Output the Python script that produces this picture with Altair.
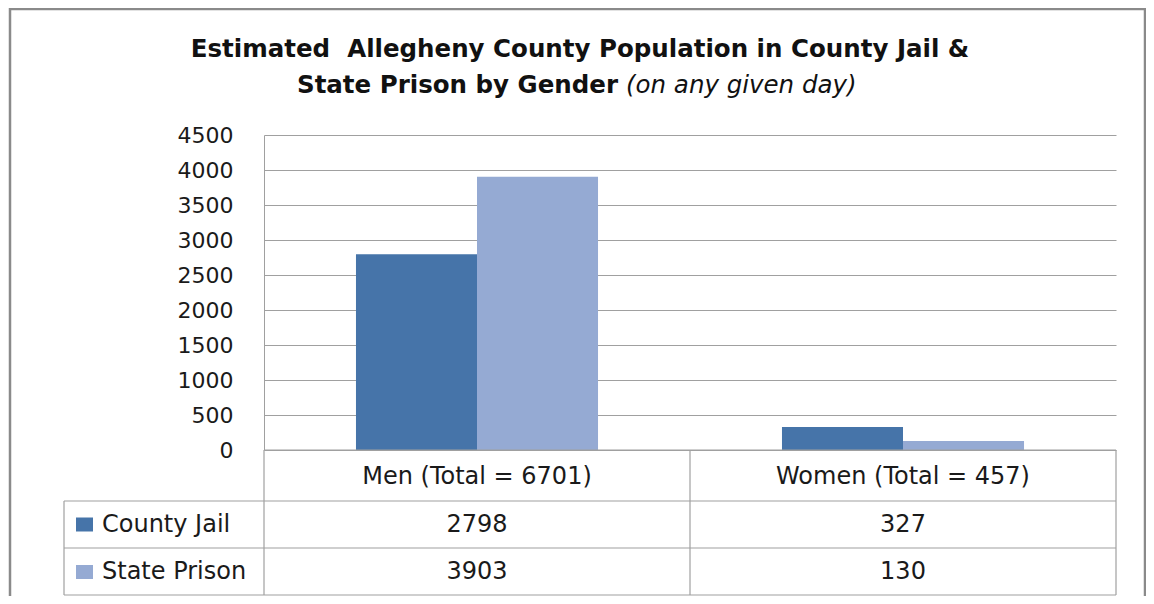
import altair as alt
import pandas as pd

# ---- data ----
genders = ["Men (Total = 6701)", "Women (Total = 457)"]
series = ["County Jail", "State Prison"]
county_jail = [2798, 327]
state_prison = [3903, 130]
colors = ["#4674A9", "#95AAD3"]
y_ticks = [0, 500, 1000, 1500, 2000, 2500, 3000, 3500, 4000, 4500]
title_line1 = "Estimated\u00a0 Allegheny County Population in County Jail &"
title_line2_bold = "State Prison by Gender"
title_line2_italic = "(on any given day)"

rows = []
for s, vals in zip(series, [county_jail, state_prison]):
    for g, v in zip(genders, vals):
        rows.append({"gender": g, "series": s, "value": v})
df = pd.DataFrame(rows)

FONT = "DejaVu Sans"
GRID = "#a0a0a0"
TEXT = "#1a1a1a"

# plot area: 852 x 315, origin at page (264, 135)
W, H = 852, 315

x_scale = alt.Scale(domain=genders, paddingInner=0, paddingOuter=0)

bars = alt.Chart(df).mark_bar().encode(
    x=alt.X("gender:N", scale=x_scale, sort=genders,
            axis=alt.Axis(title=None, ticks=False, domain=False, labelAngle=0,
                          labelFontSize=24, labelFont=FONT, labelColor=TEXT,
                          labelLimit=0, labelPadding=26, labelBaseline="middle")),
    xOffset=alt.XOffset("series:N", sort=series,
                        scale=alt.Scale(domain=series, paddingInner=0, paddingOuter=0.76)),
    y=alt.Y("value:Q", scale=alt.Scale(domain=[0, 4500], nice=False),
            axis=alt.Axis(title=None, values=y_ticks, format="d", ticks=False, domain=True,
                          domainColor=GRID, grid=True, gridColor=GRID,
                          labelFontSize=22, labelFont=FONT, labelColor=TEXT,
                          labelPadding=31)),
    color=alt.Color("series:N", scale=alt.Scale(domain=series, range=colors), legend=None),
)

one = pd.DataFrame({"a": [0]})

layers = [bars]

# table values
row_centers = [389.5, 437]
for s, yc in zip(series, row_centers):
    layers.append(
        alt.Chart(df).transform_filter(alt.datum.series == s).mark_text(
            font=FONT, fontSize=24, color=TEXT, baseline="middle", align="center"
        ).encode(x=alt.X("gender:N", scale=x_scale, sort=genders),
                 y=alt.value(yc), text="value:Q")
    )

# legend column
for s, c, yc in zip(series, colors, row_centers):
    layers.append(alt.Chart(one).mark_rect(color=c).encode(
        x=alt.value(-188), x2=alt.value(-171), y=alt.value(yc - 7), y2=alt.value(yc + 7)))
    layers.append(alt.Chart(one).mark_text(
        font=FONT, fontSize=24, color=TEXT, baseline="middle", align="left"
    ).encode(x=alt.value(-162), y=alt.value(yc), text=alt.value(s)))

# table lines
hlines = [(0, W, 315), (-200, W, 366), (-200, W, 413), (-200, W, 460)]
for x1, x2, yy in hlines:
    layers.append(alt.Chart(one).mark_rule(color=GRID, strokeWidth=1.2).encode(
        x=alt.value(x1), x2=alt.value(x2), y=alt.value(yy)))
vlines = [(-200, 366, 460), (0, 315, 460), (426, 315, 460), (W, 315, 460)]
for xx, y1, y2 in vlines:
    layers.append(alt.Chart(one).mark_rule(color=GRID, strokeWidth=1.2).encode(
        x=alt.value(xx), y=alt.value(y1), y2=alt.value(y2)))

# outer frame
layers.append(alt.Chart(one).mark_rect(filled=False, stroke="#8a8a8a", strokeWidth=2.5).encode(
    x=alt.value(-254), x2=alt.value(881), y=alt.value(-126), y2=alt.value(480)))

# title
TS = 24.5
layers.append(alt.Chart(one).mark_text(
    font=FONT, fontSize=TS, fontWeight="bold", color="#111111", align="center", baseline="alphabetic"
).encode(x=alt.value(316), y=alt.value(-78), text=alt.value(title_line1)))
layers.append(alt.Chart(one).mark_text(
    font=FONT, fontSize=TS, fontWeight="bold", color="#111111", align="right", baseline="alphabetic"
).encode(x=alt.value(354), y=alt.value(-42), text=alt.value(title_line2_bold)))
layers.append(alt.Chart(one).mark_text(
    font=FONT, fontSize=TS, fontStyle="italic", color="#111111", align="left", baseline="alphabetic"
).encode(x=alt.value(362), y=alt.value(-42), text=alt.value(title_line2_italic)))

chart = alt.layer(*layers).properties(
    width=W, height=H,
    padding={"left": 256, "top": 127, "right": 30, "bottom": 146},
    autosize=alt.AutoSizeParams(type="none"),
).configure_view(stroke=None)

chart.save("out.html", embed_options={"renderer": "svg", "actions": False})
